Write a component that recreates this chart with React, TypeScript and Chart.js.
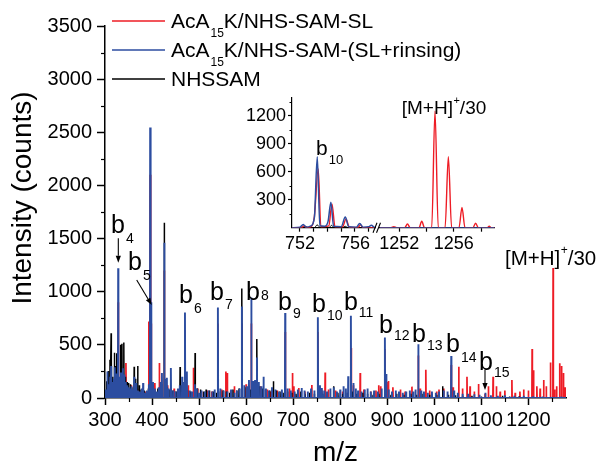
import React, { useEffect, useRef } from 'react';
import { Chart, registerables } from 'chart.js';

Chart.register(...registerables);

const FONT = "'Liberation Sans', Arial, Helvetica, sans-serif";
const RED = '#ee1c25';
const BLUE = '#2c4da0';
const BLACK = '#000000';

// ---------- main spectrum ----------
const MZ_MIN = 300;
const MZ_MAX = 1280;
const INT_MAX = 3500;
const X_TICKS = [300, 400, 500, 600, 700, 800, 900, 1000, 1100, 1200];
const X_MINOR = [350, 450, 550, 650, 750, 850, 950, 1050, 1150, 1250];
const Y_TICKS = [0, 500, 1000, 1500, 2000, 2500, 3000, 3500];
const Y_MINOR = [250, 750, 1250, 1750, 2250, 2750, 3250];

// [m/z, intensity] peaks
const RED_PEAKS = [
  [304, 70], [309, 110], [318, 140], [326, 180], [328, 900], [337, 230], [344.5, 330], [350, 90], [356, 120],
  [363, 100], [372, 80], [385, 60], [393, 720], [396, 2100], [398, 700], [406, 140], [415.5, 330], [426, 1200],
  [433, 120], [447, 90], [455, 70], [470, 640], [477, 120], [488, 285], [497, 90], [505, 60], [518, 70],
  [527, 60], [540, 700], [548, 80], [557, 250], [560, 235], [567, 70], [575, 110], [591, 700], [600, 130],
  [611, 700], [615, 150], [623, 300], [630, 110], [645, 80], [652, 60], [666, 70], [683, 620], [692, 90],
  [698.5, 235], [701.5, 110], [712, 95], [725, 60], [739.5, 123], [752.5, 620], [761, 70], [768, 240],
  [775, 80], [790, 70], [805, 60], [823.5, 470], [828, 120], [842.5, 235], [850, 80], [865, 60], [876, 70],
  [882, 120], [886, 110], [895, 460], [899, 150], [902.5, 160], [912, 100], [928, 80], [938, 60],
  [952.5, 107], [966, 400], [970, 90], [982, 265], [990, 70], [1005, 60], [1010, 80], [1020, 90],
  [1036, 310], [1040, 100], [1052, 295], [1060, 90], [1069.5, 200], [1076, 110], [1085, 60], [1094, 132],
  [1108, 40], [1115, 110], [1125, 200], [1132, 110], [1140, 60], [1150, 70], [1165, 170], [1172, 50],
  [1182, 60], [1190, 80], [1200, 70], [1208, 460], [1211, 260], [1218, 110], [1225, 90], [1232.5, 170],
  [1238, 110], [1247, 335], [1252.6, 1223], [1256, 80], [1260, 110], [1266.5, 327], [1270.5, 300],
  [1274.5, 235], [1278, 100],
];

const BLUE_PEAKS = [
  [302, 80], [305, 250], [308, 130], [311, 200], [313, 300], [316, 150], [319, 180], [321, 290], [324, 230],
  [328, 1220], [331, 200], [334, 240], [338, 280], [341, 220], [344, 150], [347, 120], [350, 100], [353, 90],
  [356, 110], [359, 80], [362, 200], [366, 140], [370, 70], [374, 60], [378, 90], [381, 140], [385, 50],
  [389, 70], [393, 130], [396, 2545], [398, 900], [402, 150], [406, 90], [410, 60], [414, 100], [418, 150],
  [421, 236], [426, 1460], [429, 180], [431.5, 190], [435, 90], [440, 283], [445, 70], [450, 60], [455, 90],
  [459, 120], [464, 200], [467, 150], [470, 805], [474, 250], [480, 70], [485, 60], [491, 130], [495, 90],
  [500, 50], [505, 70], [512, 60], [520, 70], [528, 60], [533, 80], [540, 852], [545, 90], [552, 70],
  [560, 60], [568, 80], [575, 50], [580, 70], [586, 90], [591, 860], [596, 120], [602, 110], [606, 170],
  [611, 945], [615, 160], [619, 170], [623, 380], [627, 150], [632, 110], [637, 200], [642, 90], [648, 70],
  [655, 100], [662, 80], [670, 60], [676, 80], [683, 800], [688, 90], [695, 70], [703, 60], [710, 80],
  [718, 95], [724, 70], [731, 60], [738, 90], [745, 70], [752.5, 760], [757, 120], [761, 95], [766, 70],
  [772, 60], [779, 90], [786, 100], [793, 60], [800, 80], [807, 110], [812, 90], [817, 205], [822.7, 775],
  [828, 140], [833, 90], [838, 70], [845, 60], [852, 80], [858, 90], [865, 60], [872, 70], [880, 60],
  [888, 90], [895, 570], [898, 225], [903, 80], [910, 60], [918, 70], [925, 60], [933, 50], [940, 60],
  [948, 70], [955, 60], [960, 80], [966, 505], [972, 70], [978, 60], [986, 50], [995, 60], [1003, 50],
  [1010, 60], [1020, 70], [1028, 60], [1036, 395], [1042, 70], [1050, 50], [1060, 40], [1072, 40],
  [1085, 35], [1096, 30], [1108.5, 50], [1120, 25], [1135, 20], [1150, 25], [1170, 20], [1190, 20],
  [1210, 15], [1230, 15], [1250, 10], [1270, 15],
];

const BLACK_PEAKS = [
  [303.5, 157], [307, 255], [310.6, 360], [313, 610], [316, 200], [320, 425], [323, 300], [325, 420],
  [330, 150], [333, 500], [336, 510], [340, 522], [343, 200], [347, 150], [350, 140], [354, 130], [357, 100],
  [362, 295], [365, 180], [369.5, 300], [373, 120], [377, 80], [383, 70], [388, 60], [392, 90], [395, 300],
  [400, 100], [405, 70], [412, 90], [419, 100], [426, 1650], [432, 100], [438, 80], [444, 70], [451, 60],
  [459.6, 292], [463, 120], [468, 90], [475, 70], [482, 60], [491.5, 424], [496, 90], [503, 80], [510, 60],
  [515, 80], [522, 70], [530, 60], [537, 50], [545, 60], [551, 70], [558, 60], [565, 50], [572, 80],
  [580, 70], [585, 90], [590.8, 1030], [597, 100], [604, 90], [609, 80], [617, 120], [622.7, 555],
  [628, 110], [635, 90], [641, 80], [650, 70], [658, 157], [664, 70], [672, 60], [680, 50], [688, 60],
  [697, 50], [706, 40], [716, 60], [725, 40], [735, 50], [745, 40], [755, 50], [763, 40], [772, 50],
  [786, 110], [795, 50], [805, 40], [815, 50], [826, 60], [835, 40], [848, 50], [858, 40], [870, 30],
  [882, 40], [895, 50], [908, 30], [920, 40], [935, 30], [950, 40], [962, 30], [976, 40], [990, 30],
  [1005, 30], [1017.7, 110], [1030, 30], [1045, 25], [1060, 20], [1080, 20], [1100, 15], [1120, 15],
  [1145, 20], [1160, 15], [1180, 15],
];

// b-ion annotations: subscript, label anchor (m/z, intensity), subscript drop in px
const B_IONS = ['4', '5', '6', '7', '8', '9', '10', '11', '12', '13', '14', '15'];
const B_LABEL_MZ = [312.8, 348.9, 457.3, 523.2, 599.7, 667.8, 740, 808, 882.5, 952.6, 1024.9, 1095];
const B_LABEL_INT = [1552, 1204, 894, 922, 922, 828, 809, 828, 612, 527, 433, 263];
const B_SUB_DROP = [10, 10, 10, 9, 0, 8, 8, 7, 7, 8, 10, 7];
// arrows: [mz1, int1, mz2, int2]
const ARROWS = [
  [328.3, 1502, 328.3, 1273],
  [367.4, 1110, 399.3, 875],
  [1107.8, 263, 1107.8, 75],
];
const MH_LABEL_MAIN = [1150.3, 1251];

// ---------- inset ----------
const INSET_Y_MAX = 1390;
const INSET_Y_TICKS = [300, 600, 900, 1200];
const INSET_Y_MINOR = [150, 450, 750, 1050, 1350];
const INSET_L_RANGE = [751.42, 757.5];
const INSET_R_RANGE = [1250.55, 1259];
const INSET_L_TICKS = [752, 753, 754, 755, 756, 757];
const INSET_L_LABELS = [752, 756];
const INSET_R_TICKS = [1252, 1254, 1256, 1258];
const INSET_R_LABELS = [1252, 1256];

const INSET_L_BLUE = [
  [751.42, 0], [752.0, 5], [752.24, 35], [752.45, 5], [752.8, 20], [753.05, 110], [753.26, 760], [753.45, 20],
  [753.8, 15], [754.05, 70], [754.25, 272], [754.45, 15], [755.0, 10], [755.3, 115], [755.55, 10],
  [756.1, 5], [756.35, 46], [756.6, 5], [757.0, 10], [757.2, 25], [757.4, 5], [757.5, 0],
];
const INSET_L_RED = [
  [751.42, 0], [752.1, 0], [752.3, 20], [752.5, 0], [752.85, 15], [753.05, 120], [753.33, 628], [753.52, 10],
  [754.1, 20], [754.33, 255], [754.55, 10], [755.1, 10], [755.35, 90], [755.6, 5], [756.2, 0], [756.4, 30],
  [756.6, 0], [757.5, 0],
];
const INSET_L_BLACK = [
  [751.42, 0], [752.2, 0], [752.4, 15], [752.6, 0], [753.05, 0], [753.25, 30], [753.5, 0], [754.1, 0],
  [754.3, 25], [754.5, 0], [755.1, 0], [755.3, 15], [755.5, 0], [757.5, 0],
];
const INSET_R_RED = [
  [1250.55, 0], [1251.4, 0], [1251.6, 10], [1251.8, 0], [1252.4, 0], [1252.6, 39], [1252.8, 0],
  [1253.45, 0], [1253.65, 67], [1253.85, 0], [1254.38, 0], [1254.62, 1224], [1254.86, 0], [1255.36, 0],
  [1255.6, 743], [1255.84, 0], [1256.38, 0], [1256.6, 213], [1256.82, 0], [1257.4, 0], [1257.6, 46],
  [1257.8, 0], [1258.45, 0], [1258.6, 15], [1258.75, 0], [1259, 0],
];
const INSET_R_BLUE = [
  [1250.55, 0], [1259, 0],
];
const INSET_B10_LABEL = [753.17, 782];
const INSET_MH_LABEL = [1252.18, 1191];

// ---------- helpers ----------
function sticks(peaks: number[][], lo: number, hi: number, hw: number) {
  const sorted = [...peaks].sort((a, b) => a[0] - b[0]);
  const pts: { x: number; y: number }[] = [{ x: lo, y: 0 }];
  for (const [m, h] of sorted) {
    pts.push({ x: m - hw, y: 0 }, { x: m, y: h }, { x: m + hw, y: 0 });
  }
  pts.push({ x: hi, y: 0 });
  return pts;
}
const toPts = (arr: number[][]) => arr.map(([x, y]) => ({ x, y }));

function textWithSub(ctx: CanvasRenderingContext2D, base: string, sub: string, x: number, y: number,
  size: number, subSize: number, drop: number, gap: number) {
  ctx.font = `${size}px ${FONT}`;
  ctx.fillText(base, x, y);
  const w = ctx.measureText(base).width;
  ctx.font = `${subSize}px ${FONT}`;
  ctx.fillText(sub, x + w + gap, y + drop);
  return x + w + gap + ctx.measureText(sub).width;
}

function drawMH(ctx: CanvasRenderingContext2D, x: number, y: number, size: number, supSize: number, rise: number) {
  ctx.font = `${size}px ${FONT}`;
  ctx.fillText('[M+H]', x, y);
  let cx = x + ctx.measureText('[M+H]').width + 0.5;
  ctx.font = `${supSize}px ${FONT}`;
  ctx.fillText('+', cx, y - rise);
  cx += ctx.measureText('+').width;
  ctx.font = `${size}px ${FONT}`;
  ctx.fillText('/30', cx, y);
}

function arrow(ctx: CanvasRenderingContext2D, x1: number, y1: number, x2: number, y2: number) {
  const ang = Math.atan2(y2 - y1, x2 - x1);
  const hl = 7, hw = 2.6;
  const bx = x2 - hl * Math.cos(ang), by = y2 - hl * Math.sin(ang);
  ctx.beginPath();
  ctx.moveTo(x1, y1);
  ctx.lineTo(bx, by);
  ctx.lineWidth = 1.1;
  ctx.strokeStyle = '#000';
  ctx.stroke();
  ctx.beginPath();
  ctx.moveTo(x2, y2);
  ctx.lineTo(bx + hw * Math.sin(ang), by - hw * Math.cos(ang));
  ctx.lineTo(bx - hw * Math.sin(ang), by + hw * Math.cos(ang));
  ctx.closePath();
  ctx.fillStyle = '#000';
  ctx.fill();
}

const minorTicksPlugin = {
  id: 'minorTicks',
  afterDraw(chart: any, _args: any, opts: any) {
    const ctx = chart.ctx as CanvasRenderingContext2D;
    ctx.save();
    ctx.strokeStyle = '#000';
    ctx.lineWidth = opts.width || 1;
    const xs = chart.scales.x, ys = chart.scales.y;
    if (opts.x && xs) {
      for (const v of opts.x) {
        const px = Math.round(xs.getPixelForValue(v)) + 0.5;
        ctx.beginPath(); ctx.moveTo(px, xs.top); ctx.lineTo(px, xs.top + opts.len); ctx.stroke();
      }
    }
    if (opts.y && ys && ys.options.display !== false) {
      for (const v of opts.y) {
        const py = Math.round(ys.getPixelForValue(v)) + 0.5;
        ctx.beginPath(); ctx.moveTo(ys.right - opts.len, py); ctx.lineTo(ys.right, py); ctx.stroke();
      }
    }
    ctx.restore();
  },
};

const LEGEND_ROWS = [
  { color: RED, base: 'AcA', sub: '15', rest: 'K/NHS-SAM-SL' },
  { color: BLUE, base: 'AcA', sub: '15', rest: 'K/NHS-SAM-(SL+rinsing)' },
  { color: BLACK, base: 'NHSSAM', sub: '', rest: '' },
];

const mainDecor = {
  id: 'mainDecor',
  afterDraw(chart: any) {
    const ctx = chart.ctx as CanvasRenderingContext2D;
    const xs = chart.scales.x, ys = chart.scales.y;
    const ca = chart.chartArea;
    ctx.save();
    ctx.fillStyle = '#000';
    ctx.textAlign = 'left';
    ctx.textBaseline = 'alphabetic';

    // axis titles
    ctx.font = `28px ${FONT}`;
    ctx.save();
    ctx.translate(23, 198);
    ctx.rotate(-Math.PI / 2);
    ctx.textAlign = 'center';
    ctx.textBaseline = 'middle';
    ctx.fillText('Intensity (counts)', 0, 0);
    ctx.restore();
    ctx.textAlign = 'center';
    ctx.fillText('m/z', (ca.left + ca.right) / 2, 461);
    ctx.textAlign = 'left';

    // legend
    LEGEND_ROWS.forEach((r, i) => {
      const base = ca.top + 2 + i * 29;
      ctx.beginPath();
      ctx.moveTo(ca.left + 7, base - 7);
      ctx.lineTo(ca.left + 60, base - 7);
      ctx.strokeStyle = r.color;
      ctx.lineWidth = 1.5;
      ctx.stroke();
      ctx.fillStyle = '#000';
      if (r.sub) {
        const end = textWithSub(ctx, r.base, r.sub, ca.left + 66, base, 21, 12, 9, 1);
        ctx.font = `21px ${FONT}`;
        ctx.fillText(r.rest, end, base);
      } else {
        ctx.font = `21px ${FONT}`;
        ctx.fillText(r.base, ca.left + 66, base);
      }
    });

    // b-ion labels
    ctx.fillStyle = '#000';
    B_IONS.forEach((s, i) => {
      const x = xs.getPixelForValue(B_LABEL_MZ[i]);
      const y = ys.getPixelForValue(B_LABEL_INT[i]);
      textWithSub(ctx, 'b', s, x, y, 25, 14, B_SUB_DROP[i], 1);
    });
    ARROWS.forEach(([m1, i1, m2, i2]) => {
      arrow(ctx, xs.getPixelForValue(m1), ys.getPixelForValue(i1), xs.getPixelForValue(m2), ys.getPixelForValue(i2));
    });
    ctx.fillStyle = '#000';
    drawMH(ctx, xs.getPixelForValue(MH_LABEL_MAIN[0]), ys.getPixelForValue(MH_LABEL_MAIN[1]), 20.5, 12, 11);
    ctx.restore();
  },
};

const insetLeftDecor = {
  id: 'insetLeftDecor',
  afterDraw(chart: any) {
    const ctx = chart.ctx as CanvasRenderingContext2D;
    const xs = chart.scales.x, ys = chart.scales.y;
    ctx.save();
    ctx.fillStyle = '#000';
    ctx.textAlign = 'left';
    ctx.textBaseline = 'alphabetic';
    textWithSub(ctx, 'b', '10', xs.getPixelForValue(INSET_B10_LABEL[0]), ys.getPixelForValue(INSET_B10_LABEL[1]), 21, 13, 9, 1);
    ctx.restore();
  },
};

const insetRightDecor = {
  id: 'insetRightDecor',
  afterDraw(chart: any) {
    const ctx = chart.ctx as CanvasRenderingContext2D;
    const xs = chart.scales.x, ys = chart.scales.y;
    const ca = chart.chartArea;
    ctx.save();
    ctx.fillStyle = '#000';
    ctx.textAlign = 'left';
    ctx.textBaseline = 'alphabetic';
    drawMH(ctx, xs.getPixelForValue(INSET_MH_LABEL[0]), ys.getPixelForValue(INSET_MH_LABEL[1]), 19, 11, 10);
    // axis break marks
    ctx.strokeStyle = '#000';
    ctx.lineWidth = 1.1;
    const L = ca.left, B = ca.bottom;
    ctx.beginPath();
    ctx.moveTo(L - 6.5, B + 5); ctx.lineTo(L - 2.5, B - 5);
    ctx.moveTo(L - 3, B + 5); ctx.lineTo(L + 1, B - 5);
    ctx.stroke();
    ctx.restore();
  },
};

function lineDs(label: string, data: any[], color: string, width: number, smooth: boolean) {
  return {
    label,
    data,
    borderColor: color,
    backgroundColor: color,
    borderWidth: width,
    pointRadius: 0,
    fill: false,
    tension: 0,
    cubicInterpolationMode: smooth ? 'monotone' : 'default',
    borderJoinStyle: 'bevel',
  };
}

function axisCommon(size: number, tickLen: number, pad: number, bw: number) {
  return {
    grid: { drawOnChartArea: false, drawTicks: true, tickLength: tickLen, tickWidth: bw, tickColor: '#000' },
    border: { display: true, color: '#000', width: bw },
    ticks: { color: '#000', font: { family: FONT, size }, padding: pad, maxRotation: 0, minRotation: 0, autoSkip: false },
  };
}

export default function App() {
  const mainRef = useRef<HTMLCanvasElement>(null);
  const leftRef = useRef<HTMLCanvasElement>(null);
  const rightRef = useRef<HTMLCanvasElement>(null);

  useEffect(() => {
    const charts: Chart[] = [];

    // main chart
    const mx = axisCommon(20, 7, 3, 1.5);
    const my = axisCommon(20, 8, 5, 1.5);
    charts.push(new Chart(mainRef.current!, {
      type: 'line',
      data: {
        datasets: [
          lineDs('AcA15K/NHS-SAM-(SL+rinsing)', sticks(BLUE_PEAKS, MZ_MIN, MZ_MAX, 0.5), BLUE, 1.9, false),
          lineDs('NHSSAM', sticks(BLACK_PEAKS, MZ_MIN, MZ_MAX, 0.5), BLACK, 1.5, false),
          lineDs('AcA15K/NHS-SAM-SL', sticks(RED_PEAKS, MZ_MIN, MZ_MAX, 0.5), RED, 1.7, false),
        ] as any,
      },
      options: {
        animation: false,
        responsive: false,
        events: [],
        layout: { padding: { left: 0, right: 32, top: 26, bottom: 0 } },
        plugins: {
          legend: { display: false },
          tooltip: { enabled: false },
          minorTicks: { x: X_MINOR, y: Y_MINOR, len: 4, width: 1.2 },
        } as any,
        scales: {
          x: {
            type: 'linear', min: MZ_MIN, max: MZ_MAX,
            ...mx,
            ticks: { ...mx.ticks, callback: (v: any) => String(v) },
            afterBuildTicks: (s: any) => { s.ticks = X_TICKS.map((v) => ({ value: v })); },
            afterFit: (s: any) => { s.height = 67; },
          } as any,
          y: {
            type: 'linear', min: 0, max: INT_MAX,
            ...my,
            ticks: { ...my.ticks, callback: (v: any) => String(v) },
            afterBuildTicks: (s: any) => { s.ticks = Y_TICKS.map((v) => ({ value: v })); },
            afterFit: (s: any) => { s.width = 105; },
          } as any,
        },
      },
      plugins: [minorTicksPlugin, mainDecor],
    } as any));

    // inset left segment
    const lx = axisCommon(18, 4, 2, 1.2);
    const ly = axisCommon(18, 4, 2, 1.2);
    charts.push(new Chart(leftRef.current!, {
      type: 'line',
      data: {
        datasets: [
          lineDs('blue', toPts(INSET_L_BLUE), BLUE, 1.5, true),
          lineDs('red', toPts(INSET_L_RED), RED, 1.4, true),
          lineDs('black', toPts(INSET_L_BLACK), BLACK, 1.0, true),
        ] as any,
      },
      options: {
        animation: false,
        responsive: false,
        events: [],
        layout: { padding: { left: 0, right: 2.5, top: 10, bottom: 0 } },
        plugins: {
          legend: { display: false },
          tooltip: { enabled: false },
          minorTicks: { y: INSET_Y_MINOR, len: 2.5, width: 1 },
        } as any,
        scales: {
          x: {
            type: 'linear', min: INSET_L_RANGE[0], max: INSET_L_RANGE[1],
            ...lx,
            ticks: { ...lx.ticks, callback: (v: any) => (INSET_L_LABELS.includes(v) ? String(v) : '') },
            afterBuildTicks: (s: any) => { s.ticks = INSET_L_TICKS.map((v) => ({ value: v })); },
            afterFit: (s: any) => { s.height = 37.3; },
          } as any,
          y: {
            type: 'linear', min: 0, max: INSET_Y_MAX,
            ...ly,
            ticks: { ...ly.ticks, callback: (v: any) => String(v) },
            afterBuildTicks: (s: any) => { s.ticks = INSET_Y_TICKS.map((v) => ({ value: v })); },
            afterFit: (s: any) => { s.width = 60; },
          } as any,
        },
      },
      plugins: [minorTicksPlugin, insetLeftDecor],
    } as any));

    // inset right segment
    const rx = axisCommon(18, 4, 2, 1.2);
    charts.push(new Chart(rightRef.current!, {
      type: 'line',
      data: {
        datasets: [
          lineDs('blue', toPts(INSET_R_BLUE), BLUE, 1.5, true),
          lineDs('red', toPts(INSET_R_RED), RED, 1.4, true),
        ] as any,
      },
      options: {
        animation: false,
        responsive: false,
        events: [],
        layout: { padding: { left: 17.5, right: 9.3, top: 10, bottom: 0 } },
        plugins: {
          legend: { display: false },
          tooltip: { enabled: false },
        },
        scales: {
          x: {
            type: 'linear', min: INSET_R_RANGE[0], max: INSET_R_RANGE[1],
            ...rx,
            ticks: { ...rx.ticks, callback: (v: any) => (INSET_R_LABELS.includes(v) ? String(v) : '') },
            afterBuildTicks: (s: any) => { s.ticks = INSET_R_TICKS.map((v) => ({ value: v })); },
            afterFit: (s: any) => { s.height = 37.3; },
          } as any,
          y: { type: 'linear', min: 0, max: INSET_Y_MAX, display: false } as any,
        },
      },
      plugins: [insetRightDecor],
    } as any));

    return () => { charts.forEach((c) => c.destroy()); };
  }, []);

  return (
    <div style={{ position: 'fixed', left: 0, top: 0, width: 598, height: 465, background: '#fff', overflow: 'hidden' }}>
      <canvas ref={mainRef} width={598} height={465} style={{ position: 'absolute', left: 0, top: 0, width: 598, height: 465 }} />
      <canvas ref={leftRef} width={146} height={180} style={{ position: 'absolute', left: 232, top: 85, width: 146, height: 180 }} />
      <canvas ref={rightRef} width={142} height={180} style={{ position: 'absolute', left: 362, top: 85, width: 142, height: 180 }} />
    </div>
  );
}
